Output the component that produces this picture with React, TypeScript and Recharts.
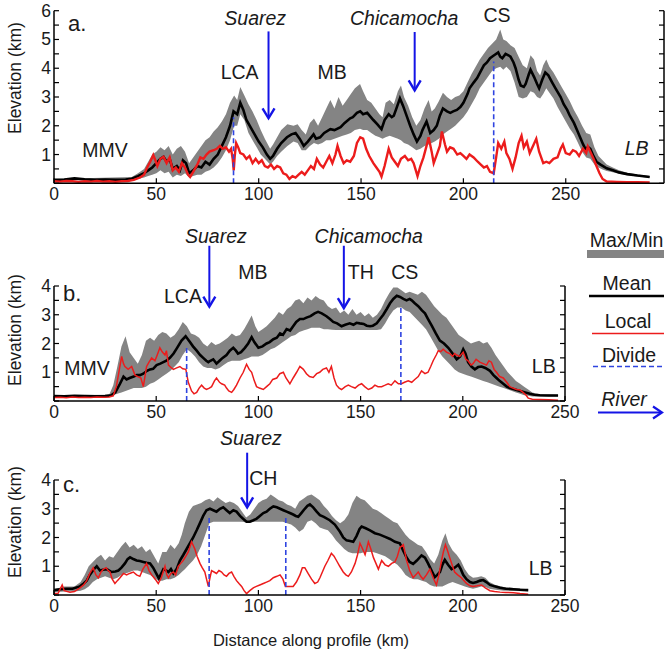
import React from 'react';
import { ComposedChart, Line, Area, XAxis, YAxis, ReferenceLine, ReferenceDot } from 'recharts';

const FONT = '"Liberation Sans", Arial, Helvetica, sans-serif';
const GRAY = '#848484';
const RED = '#ec1c1c';
const DIVIDE = '#2f44e0';
const RIVER = '#1414e6';
const TXT = '#1a1a1a';
const W = 668;

// ---------- Panel a ----------
const aMean: [number, number][] = [
  [0,0.12],[5,0.13],[10,0.17],[15,0.14],[20,0.12],[25,0.13],[30,0.12],[35,0.13],[38,0.16],[41,0.25],[44,0.35],[46,0.45],[48,0.55],[50,0.7],[52,0.85],[53.5,0.92],[55,0.75],[56.5,0.85],[58,0.5],[60,0.6],[61.5,0.45],[63,0.8],[64.5,0.7],[66,0.35],[68,0.45],[70,0.6],[72,0.55],[74,0.75],[76,0.65],[78,0.85],[80,1.0],[82,1.3],[84,1.6],[86,2.0],[87.7,2.5],[89.5,2.4],[91,2.8],[92.5,2.55],[94,2.2],[96,1.95],[98,1.7],[100,1.45],[102,1.25],[104,1.0],[105.6,0.85],[107,0.95],[109,1.2],[111,1.4],[113.8,1.6],[116,1.7],[118,1.75],[120,1.55],[122,1.3],[124,1.45],[126.8,1.7],[128,1.55],[130,1.6],[132,1.75],[135,1.88],[137,1.85],[140,1.95],[142,2.1],[144.7,2.26],[146,2.3],[148,2.45],[149.6,2.5],[151,2.4],[153,2.45],[156,2.2],[158,2.05],[160,1.88],[161.5,2.2],[163.5,2.4],[165,2.3],[166,2.35],[167.5,2.65],[169,2.95],[170.5,2.7],[172.5,2.3],[174,2.0],[175.7,1.7],[177.3,1.45],[179,1.65],[180,1.85],[182,2.15],[183.8,1.75],[185.5,1.85],[187,2.0],[188.5,2.35],[190,2.6],[192,2.5],[193.6,2.45],[195,2.5],[196.8,2.55],[198.5,2.65],[200,2.8],[202,3.1],[203,3.3],[205,3.5],[206.7,3.66],[208.5,3.9],[210,4.1],[211.5,4.2],[213,4.35],[215,4.45],[217,4.55],[218,4.4],[219,4.35],[220.6,4.5],[222,4.45],[223,4.4],[224.5,4.2],[225.5,4.0],[227,3.6],[228,3.4],[229.5,3.35],[230.4,3.45],[232,3.8],[232.8,3.95],[234.5,3.7],[236,3.45],[237,3.3],[238.5,3.6],[240,3.85],[241.5,3.75],[243.4,3.5],[245,3.3],[247.5,3.0],[249,2.75],[250.7,2.55],[252,2.35],[254,2.1],[255.5,1.85],[257,1.6],[258.5,1.35],[259.6,1.2],[261,1.25],[262,1.2],[263.5,0.95],[265,0.75],[267,0.65],[270,0.52],[273,0.45],[276,0.38],[280,0.32],[285,0.27],[291,0.22]
];
const aBand: [number, number, number][] = [
  [0,0.1,0.15],[38,0.12,0.22],[41,0.15,0.35],[44,0.2,0.5],[46,0.25,0.75],[48,0.3,1.0],[50,0.35,1.1],[52,0.45,1.25],[54,0.35,1.15],[56,0.4,1.3],[58,0.2,1.0],[60,0.3,1.2],[62,0.25,1.3],[64,0.35,1.1],[66,0.2,0.7],[68,0.25,0.9],[70,0.3,1.1],[72,0.3,1.3],[74,0.4,1.5],[76,0.45,1.6],[78,0.55,1.8],[80,0.7,1.95],[82,0.9,2.15],[84,1.15,2.4],[86,1.5,2.8],[88,2.0,3.05],[89.5,2.0,2.9],[91,2.4,3.35],[93,2.2,3.05],[95,1.75,2.75],[97,1.5,2.5],[99,1.25,2.2],[101,1.0,1.85],[103,0.85,1.55],[105.6,0.65,1.2],[107,0.75,1.35],[109,0.95,1.6],[111,1.1,1.85],[114,1.3,2.05],[117,1.45,2.0],[119,1.4,2.05],[121,1.15,1.85],[123,1.15,1.7],[125,1.3,2.1],[127,1.4,2.25],[129,1.35,2.0],[131,1.4,2.3],[133,1.5,2.6],[135,1.5,2.9],[137,1.55,2.6],[139,1.6,3.0],[141,1.65,2.7],[143,1.7,2.9],[145,1.75,3.1],[147,1.85,3.3],[149.5,1.9,3.45],[151,1.85,3.2],[153,1.85,2.9],[155,1.75,2.8],[157,1.65,2.6],[159,1.6,2.4],[160.5,1.55,2.3],[162,1.6,2.8],[164,1.65,2.9],[166,1.6,2.75],[168,1.55,3.2],[169.5,1.5,3.4],[171,1.4,3.0],[173,1.35,2.7],[175,1.25,2.3],[177,1.15,2.0],[179,1.2,2.2],[181,1.3,2.6],[183,1.35,2.9],[184.5,1.4,2.5],[186,1.45,2.6],[188,1.55,2.85],[190,1.7,3.15],[192,1.8,3.0],[194,1.9,2.9],[196,2.0,3.0],[198,2.15,3.05],[200,2.3,3.2],[202,2.5,3.5],[204,2.75,3.8],[206,3.0,4.05],[208,3.3,4.3],[210,3.5,4.5],[212,3.7,4.7],[214,3.9,4.85],[216,4.0,5.0],[218,4.05,5.35],[219.5,3.95,5.0],[221,4.05,4.95],[223,3.9,4.8],[225,3.5,4.7],[227,3.0,4.4],[229,2.95,4.1],[231,3.0,4.0],[232.8,3.2,4.45],[234.5,3.15,4.3],[236,3.0,3.9],[237.5,2.95,3.75],[239,3.1,4.1],[240.5,3.3,4.3],[242,3.15,4.05],[244,2.95,3.85],[246,2.65,3.6],[248,2.4,3.35],[250,2.15,3.1],[252,1.9,2.85],[254,1.7,2.55],[256,1.4,2.3],[258,1.1,2.0],[260,0.9,1.75],[262,0.85,1.7],[264,0.65,1.25],[266,0.55,0.95],[268,0.48,0.8],[270,0.43,0.65],[273,0.38,0.55],[276,0.33,0.45],[280,0.28,0.37],[285,0.24,0.31],[291,0.19,0.25]
];
const aLocal: [number, number][] = [
  [0,0.07],[3,0.06],[6,0.08],[9,0.07],[12,0.05],[15,0.07],[18,0.06],[21,0.08],[24,0.06],[27,0.07],[30,0.05],[33,0.07],[36,0.08],[39,0.12],[42,0.2],[44,0.3],[45.5,0.55],[47,0.75],[48.5,0.98],[49.5,0.8],[50.5,0.6],[52,0.85],[53.5,0.92],[55,0.7],[56.5,0.9],[58,0.45],[59.5,0.55],[61,0.4],[62.5,0.7],[64,0.55],[65.5,0.3],[66.5,0.22],[68,0.4],[70,0.65],[71.5,0.9],[73,0.85],[74.5,1.0],[76,1.1],[78,1.15],[79.5,1.2],[81,1.3],[82.5,1.2],[84,1.25],[85.5,1.1],[86.5,1.2],[87.3,0.85],[87.8,0.45],[88.3,0.95],[89,1.4],[90,1.25],[91,1.05],[92.5,1.0],[94,0.85],[95.5,0.95],[97,0.7],[98.5,0.85],[100,0.7],[101.5,0.8],[103,0.6],[104.5,0.55],[106,0.65],[107.5,0.5],[109,0.6],[110.5,0.55],[112,0.35],[113.5,0.3],[115,0.15],[116.5,0.25],[118,0.2],[119.5,0.3],[121,0.4],[122.5,0.3],[124,0.45],[125.5,0.6],[127,0.5],[128.4,0.85],[130,0.65],[131.5,0.55],[133,0.75],[134.5,0.95],[136,0.7],[137.5,1.0],[138.5,1.3],[140,0.95],[141.5,0.7],[143,0.8],[144.7,0.75],[146.5,0.95],[148,1.4],[149.6,1.6],[151,1.55],[152.5,1.2],[154,0.95],[156,0.7],[157.5,0.55],[159,0.4],[160,0.23],[161.5,0.6],[163.5,1.2],[165,0.9],[166.5,0.75],[168,0.6],[169.5,0.85],[171.4,0.95],[173,0.8],[174.5,0.85],[175.7,0.7],[177.6,0.25],[179,0.6],[180.5,0.9],[182,1.3],[183,1.6],[184.5,1.1],[185.5,0.7],[187,1.0],[188.5,1.3],[189.5,1.8],[191,1.35],[192,1.1],[193.5,1.25],[195.2,1.2],[197,1.0],[198.5,1.05],[200,0.95],[201.5,0.85],[203,1.0],[205,0.9],[207,0.75],[208.5,0.65],[210,0.55],[211.5,0.6],[213,0.4],[214.8,0.35],[216,0.9],[217,1.4],[218.5,1.2],[220,1.45],[221,1.05],[222.5,0.85],[224,0.5],[225.5,0.9],[227,1.4],[228.4,1.65],[229.5,1.25],[231,1.45],[232.4,1.05],[234,1.3],[235.6,1.55],[237,1.1],[239,0.7],[240.5,0.75],[242,0.7],[244,0.85],[246,0.9],[247.5,1.2],[248.6,1.35],[250,1.05],[251.9,1.0],[253.5,1.15],[255,1.1],[256.5,0.95],[258.4,1.2],[260,1.05],[260.8,1.28],[262,1.1],[263.3,0.9],[265,0.6],[266.5,0.35],[268,0.15],[270,0.06],[275,0.05],[280,0.04],[285,0.04],[291,0.03]
];
const aDivides: [number, number][] = [[87.7, 2.3], [214.8, 4.23]];
const aRivers: [number, number, number][] = [[104.8, 5.28, 2.26], [176.2, 5.26, 3.23]];
const aLabels: [string, number, number, string, boolean][] = [
  ['a.', 6.8, 5.31, 'start', false], ['Suarez', 98.3, 5.52, 'middle', true], ['LCA', 90.7, 3.63, 'middle', false],
  ['MB', 135.9, 3.63, 'middle', false], ['MMV', 24.9, 0.92, 'middle', false], ['Chicamocha', 171.1, 5.52, 'middle', true],
  ['CS', 216.4, 5.62, 'middle', false], ['LB', 284.6, 0.99, 'middle', true]
];

// ---------- Panel b ----------
const bMean: [number, number][] = [
  [0,0.17],[5,0.16],[10,0.18],[15,0.17],[20,0.16],[25,0.17],[28,0.2],[30,0.3],[32.3,0.6],[34,0.85],[35.5,0.75],[37,0.8],[39,0.85],[40.5,0.9],[42,0.9],[43.7,0.95],[45.5,1.05],[47,1.1],[48.5,1.12],[50.2,1.25],[52,1.3],[53.5,1.35],[55,1.4],[56.7,1.5],[58.5,1.65],[60,1.82],[62.4,2.1],[64.4,2.25],[65.5,2.15],[66.5,2.05],[68,1.9],[69.8,1.75],[71.5,1.6],[73,1.5],[74.5,1.4],[75.5,1.35],[76.5,1.4],[77.9,1.45],[79.5,1.3],[81,1.4],[82.5,1.5],[84.4,1.6],[86,1.75],[87.7,1.85],[89,1.75],[90,1.65],[91.5,1.7],[93.4,1.85],[95,2.0],[96.7,2.22],[98,2.05],[100,1.85],[102,1.9],[104,2.0],[105.5,2.05],[107.3,2.15],[109,2.2],[110.6,2.35],[112,2.3],[113.8,2.5],[115.5,2.45],[117,2.6],[118.5,2.75],[120.3,2.85],[122,2.85],[123.5,2.9],[125.5,2.95],[127.5,3.05],[129.2,3.1],[131,3.05],[133.3,2.95],[135,2.85],[136.6,2.75],[138.5,2.7],[140.7,2.6],[142.5,2.65],[144.7,2.7],[146.5,2.65],[148,2.72],[149.6,2.7],[151.5,2.68],[153,2.62],[154.6,2.6],[156,2.62],[157.9,2.7],[159.5,2.85],[161.1,3.0],[162.8,3.2],[164.4,3.4],[166,3.55],[167.7,3.66],[169.3,3.62],[170.9,3.55],[172.5,3.5],[174,3.55],[175,3.5],[176.5,3.4],[178.2,3.3],[180,3.15],[181.5,3.05],[183,2.85],[184.8,2.62],[186.8,2.35],[188.8,2.1],[190.8,2.0],[192.9,1.85],[195,1.65],[197,1.45],[198.7,1.55],[200.2,1.8],[201.3,1.65],[202.6,1.35],[204.2,1.2],[205.9,1.1],[207.5,1.18],[209.2,1.2],[211,1.15],[213.3,1.05],[215,0.9],[216.5,0.8],[218,0.7],[219.8,0.6],[221.5,0.5],[223,0.45],[225.5,0.4],[228,0.35],[230.5,0.3],[232.8,0.25],[235,0.22],[237.7,0.2],[242,0.19],[246.6,0.19]
];
const bBand: [number, number, number][] = [
  [0,0.12,0.2],[27,0.13,0.22],[29,0.2,0.55],[31,0.25,1.2],[33,0.3,1.9],[35,0.35,2.25],[37,0.4,1.7],[39,0.45,1.5],[41,0.45,1.3],[43,0.45,1.6],[45,0.5,2.1],[47,0.6,2.2],[49,0.65,2.1],[51,0.75,2.3],[53,0.85,2.4],[55,0.95,2.35],[57,1.05,2.2],[59,1.2,2.3],[61,1.35,2.5],[63,1.6,2.75],[65,1.8,2.6],[67,1.7,2.35],[69,1.55,2.3],[71,1.35,2.2],[73,1.2,2.0],[75,1.15,1.9],[77,1.15,2.05],[79,1.1,1.95],[81,1.15,2.0],[83,1.25,2.1],[85,1.35,2.2],[87,1.4,2.35],[89,1.4,2.25],[91,1.4,2.3],[93,1.45,2.5],[95,1.5,2.75],[96.7,1.55,2.97],[98.5,1.55,2.6],[100,1.55,2.4],[102,1.6,2.5],[104,1.7,2.6],[106,1.8,2.75],[108,1.85,2.9],[110,1.95,3.1],[112,2.05,3.0],[114,2.15,3.2],[116,2.25,3.3],[118,2.3,3.5],[120,2.4,3.55],[122,2.45,3.4],[124,2.5,3.6],[126,2.55,3.5],[128,2.55,3.65],[130,2.55,3.55],[132,2.5,3.5],[134,2.5,3.3],[136,2.48,3.2],[138,2.47,3.25],[140,2.47,3.05],[142,2.47,3.15],[144,2.47,3.0],[146,2.47,3.2],[148,2.47,3.0],[150,2.47,3.1],[152,2.47,2.95],[154,2.47,3.05],[156,2.47,2.9],[158,2.47,3.0],[160,2.5,3.2],[162,2.7,3.5],[164,2.95,3.75],[166,3.15,3.95],[168,3.25,3.95],[170,3.25,3.85],[172,3.15,3.75],[174,3.1,3.8],[176,2.95,3.75],[178,2.8,3.7],[180,2.65,3.8],[182,2.5,3.7],[184,2.25,3.5],[186,2.0,3.3],[188,1.75,3.15],[190,1.55,3.0],[192,1.4,2.9],[194,1.25,2.7],[196,1.1,2.5],[198,1.0,2.3],[200,0.95,2.2],[202,0.9,2.1],[204,0.85,2.0],[206,0.8,2.05],[208,0.75,2.1],[210,0.7,2.0],[212,0.65,2.05],[214,0.6,1.85],[216,0.55,1.6],[218,0.5,1.4],[220,0.45,1.2],[222,0.4,1.0],[224,0.35,0.85],[226,0.3,0.7],[228,0.25,0.6],[230,0.2,0.5],[232,0.18,0.4],[234,0.16,0.3],[237,0.16,0.24],[246.6,0.16,0.22]
];
const bLocal: [number, number][] = [
  [0,0.12],[3,0.13],[6,0.11],[9,0.14],[12,0.12],[15,0.13],[18,0.12],[21,0.14],[24,0.13],[27,0.14],[29,0.18],[30.5,0.5],[31.5,0.9],[33.1,1.55],[34,1.3],[34.7,1.2],[36.3,1.1],[38,1.2],[39.6,0.9],[41,0.85],[42.5,0.8],[43.7,0.5],[45.3,1.2],[46.5,1.35],[47.8,1.5],[49.4,1.4],[50.5,1.6],[51.8,1.85],[53,1.7],[54.3,1.6],[55,1.75],[56,1.25],[57.5,1.15],[58.4,1.1],[60,1.15],[61.6,1.2],[63,1.12],[64.5,1.1],[65.7,0.65],[67.3,0.35],[68.5,0.25],[69.8,0.3],[71,0.45],[72.2,0.55],[73.5,0.45],[74.6,0.4],[76,0.45],[77.1,0.5],[78.5,0.7],[79.5,0.8],[81,0.65],[82,0.6],[83.5,0.55],[84.4,0.45],[85.5,0.35],[86.9,0.3],[88,0.4],[89.3,0.55],[91,0.8],[92.6,1.0],[94.2,1.28],[95.5,1.1],[96.7,1.0],[98,0.7],[99.1,0.5],[100.5,0.45],[102.4,0.4],[104,0.5],[105.6,0.6],[107,0.75],[109,0.8],[110.5,0.95],[112.2,1.0],[113.5,0.8],[115.4,0.6],[117,0.8],[118.7,1.0],[120.3,1.2],[122,1.1],[123.5,0.95],[125,0.85],[126.8,0.82],[128.5,0.95],[130,1.0],[131.5,1.1],[133.3,1.15],[134.5,1.0],[135.7,1.2],[137,0.8],[138.2,0.55],[139.5,0.45],[140.7,0.4],[142.5,0.5],[144,0.55],[145.5,0.5],[147.3,0.45],[149,0.55],[150.5,0.6],[152,0.5],[153.8,0.4],[155.5,0.45],[157,0.55],[158.5,0.5],[160.3,0.5],[162,0.55],[163.5,0.6],[165,0.55],[166.8,0.7],[168.5,0.6],[170,0.6],[171.5,0.65],[173.3,0.7],[175,0.65],[176.5,0.75],[178.2,0.85],[179.8,1.05],[181.5,0.95],[183,1.0],[184.3,1.2],[185.5,1.4],[187,1.6],[188,1.75],[189.2,1.72],[190.4,1.8],[192,1.7],[193.6,1.65],[195,1.55],[196,1.65],[197,1.6],[198.5,1.55],[200.2,1.7],[201.5,1.45],[202.6,1.4],[204,1.25],[205,1.3],[206.5,1.45],[208.3,1.35],[210,1.3],[211.6,1.25],[212.8,1.4],[214,1.35],[215.3,1.1],[216.5,1.0],[218,0.85],[219.8,0.8],[221.5,0.65],[223,0.5],[224.5,0.45],[226.3,0.4],[228,0.38],[229.5,0.3],[231,0.2],[232,0.1],[234,0.06],[237.7,0.05],[242,0.04],[246.6,0.03]
];
const bDivides: [number, number][] = [[64.9, 1.93], [169.7, 3.31]];
const bRivers: [number, number, number][] = [[76, 5.4, 3.28], [141.8, 5.4, 3.23]];
const bLabels: [string, number, number, string, boolean][] = [
  ['b.', 4.4, 3.48, 'start', false], ['Suarez', 79.2, 5.49, 'middle', true], ['MB', 97.3, 4.24, 'middle', false],
  ['LCA', 63.1, 3.42, 'middle', false], ['MMV', 16.1, 0.9, 'middle', false], ['Chicamocha', 154, 5.49, 'middle', true],
  ['TH', 150.1, 4.24, 'middle', false], ['CS', 171.6, 4.24, 'middle', false], ['LB', 239.6, 0.97, 'middle', false]
];

// ---------- Panel c ----------
const cMean: [number, number][] = [
  [0,0.17],[3,0.2],[6,0.22],[9,0.22],[12.7,0.3],[14.5,0.4],[16,0.5],[17.5,0.7],[19.2,0.87],[20.9,1.0],[22.5,0.85],[24,0.88],[25.8,0.9],[27,0.85],[28.2,0.8],[30,0.82],[31.5,0.85],[33,0.95],[34.7,1.1],[36,1.25],[37.2,1.31],[38.8,1.25],[40.4,1.2],[42,1.18],[43.7,1.15],[45.3,1.12],[47,1.1],[48.5,0.95],[50,0.75],[51.3,0.58],[52.5,0.75],[53.5,0.9],[55,0.85],[56,0.8],[57.2,0.9],[58.4,0.75],[60,0.9],[61.6,1.2],[63.3,1.4],[64.9,1.6],[66.5,1.8],[68.1,2.0],[69.8,2.25],[71.4,2.5],[73,2.75],[74.6,2.95],[76.3,3.0],[77.9,2.95],[79.5,2.9],[81.2,3.0],[82.8,3.05],[84.4,2.95],[86,2.85],[87.7,2.95],[89.3,2.9],[91,2.75],[92.5,2.65],[94.2,2.55],[95.8,2.55],[97.5,2.6],[99,2.65],[100.7,2.75],[102.4,2.85],[104,2.9],[105.6,3.0],[107.3,3.08],[109,3.05],[110.6,3.0],[112.2,2.95],[113.8,2.9],[115.4,2.85],[117,2.8],[118.3,2.75],[119.5,2.72],[121,2.85],[122.7,3.0],[124,3.1],[125.2,3.15],[126.8,3.05],[128.5,2.9],[130.1,2.78],[132,2.72],[134.9,2.6],[137.4,2.45],[139.9,2.2],[141.5,2.0],[143.1,1.9],[144.8,1.88],[146.4,1.85],[148,2.05],[149.5,2.3],[150.5,2.38],[152.5,2.32],[154.6,2.25],[157,2.15],[159.4,2.1],[162,2.02],[164.4,1.95],[166.8,1.85],[169.2,1.8],[170.8,1.55],[172.5,1.3],[174,1.15],[175.7,1.08],[177.5,1.2],[179.8,1.38],[181.5,1.3],[183,1.1],[184.7,0.85],[186.3,0.62],[187.5,0.7],[188.8,0.8],[190,1.05],[191.2,1.22],[192.8,1.05],[194.5,0.9],[196,0.95],[197.8,1.05],[199,0.9],[200.2,0.7],[201.8,0.55],[203.5,0.45],[205,0.42],[206.8,0.45],[208.5,0.5],[210,0.52],[211.5,0.45],[213.3,0.35],[215.5,0.3],[218.2,0.25],[221,0.22],[224.8,0.2],[228,0.18],[232,0.17]
];
const cBand: [number, number, number][] = [
  [0,0.1,0.2],[5,0.12,0.3],[10,0.12,0.3],[13,0.15,0.45],[15,0.2,0.7],[17,0.3,1.0],[19,0.45,1.15],[21,0.55,1.3],[23,0.6,1.4],[25,0.65,1.2],[27,0.6,1.35],[29,0.55,1.3],[31,0.6,1.5],[33,0.7,1.7],[35,0.75,1.85],[37,0.8,1.65],[39,0.85,1.75],[41,0.85,1.6],[43,0.8,1.7],[45,0.75,1.5],[47,0.7,1.6],[49,0.6,1.35],[51,0.5,1.1],[53,0.5,1.5],[55,0.55,1.5],[57,0.55,1.75],[59,0.6,1.6],[61,0.7,1.8],[62.5,0.8,2.1],[64,0.9,2.5],[66,1.05,2.9],[68,1.2,3.1],[70,1.4,3.15],[72,1.7,3.2],[74,2.1,3.3],[76,2.5,3.35],[78,2.55,3.25],[80,2.55,3.4],[82,2.55,3.3],[84,2.55,3.2],[86,2.55,3.25],[88,2.55,3.2],[90,2.55,3.1],[92,2.55,2.9],[94,2.52,2.7],[96,2.52,2.8],[98,2.55,3.0],[100,2.55,3.2],[102,2.55,3.3],[104,2.55,3.35],[106,2.55,3.5],[108,2.55,3.4],[110,2.55,3.3],[112,2.55,3.25],[114,2.5,3.15],[116,2.45,3.1],[118,2.35,3.0],[120,2.2,3.25],[122,2.3,3.35],[124,2.55,3.45],[126,2.6,3.5],[128,2.5,3.4],[130,2.35,3.3],[132,2.3,3.1],[134,2.25,2.95],[136,2.1,2.75],[138,1.9,2.6],[140,1.75,2.5],[142,1.6,2.6],[144,1.5,2.8],[146,1.45,3.2],[148,1.45,3.45],[150,1.45,3.35],[152,1.5,3.3],[154,1.5,3.15],[156,1.5,3.0],[158,1.45,2.95],[160,1.4,2.85],[162,1.35,2.75],[164,1.25,2.65],[166,1.15,2.55],[168,1.05,2.5],[170,0.9,2.3],[172,0.7,2.1],[174,0.6,1.95],[176,0.55,1.85],[178,0.55,1.75],[180,0.5,1.7],[182,0.45,1.5],[184,0.35,1.25],[186,0.3,1.1],[188,0.3,1.4],[190,0.3,1.9],[191.5,0.35,2.15],[193,0.4,1.8],[195,0.45,1.55],[197,0.4,1.4],[199,0.35,1.2],[201,0.3,0.9],[203,0.25,0.7],[205,0.22,0.6],[207,0.25,0.62],[209,0.3,0.65],[211,0.28,0.6],[213,0.22,0.45],[216,0.18,0.35],[220,0.15,0.28],[225,0.14,0.24],[232,0.13,0.2]
];
const cLocal: [number, number][] = [
  [0,0.05],[2,0.06],[4,0.35],[5,0.15],[7.8,0.1],[10,0.12],[12.7,0.25],[14.5,0.35],[16,0.5],[17.5,0.75],[19.2,0.95],[20.5,0.7],[21.7,0.6],[23,0.8],[24.2,0.9],[25.5,0.95],[26.5,0.85],[27.4,0.8],[28.5,0.55],[29.8,0.4],[31,0.5],[32.3,0.6],[34,0.75],[35.5,0.7],[37,0.75],[38.8,0.8],[40.4,0.7],[42,0.65],[43.5,0.9],[45.3,1.1],[46.5,0.85],[47.8,0.7],[49.5,0.55],[51,0.4],[52.5,0.6],[54.3,1.0],[55.2,0.7],[56,0.6],[57.2,0.75],[58.4,0.8],[59.5,0.7],[60.8,1.0],[62,1.1],[63.2,1.2],[64.5,1.35],[65.7,1.5],[67.3,1.85],[68.9,1.6],[70,1.35],[71.4,1.1],[72.5,0.95],[73.8,0.8],[74.8,0.5],[75.5,0.3],[76.3,0.6],[77.1,0.85],[78.3,0.8],[79.5,0.75],[80.7,0.85],[82,0.8],[83.2,0.7],[84.4,0.65],[85.6,0.75],[86.9,0.8],[88,0.65],[89.3,0.5],[90.5,0.4],[91.8,0.3],[93,0.15],[94.2,0.05],[95.8,0.15],[97.5,0.25],[99,0.3],[100.7,0.35],[102.4,0.4],[104,0.45],[105.6,0.5],[107.3,0.6],[109,0.65],[110.6,0.7],[112,0.55],[113.2,0.3],[115,0.3],[117,0.3],[118.6,0.45],[120.3,0.7],[121.5,0.95],[122.7,0.95],[124.3,0.75],[126,0.55],[127.6,0.4],[129,0.45],[130.1,0.6],[131.3,0.8],[132.5,1.0],[134,1.2],[135.7,1.45],[137,1.35],[138.2,1.2],[139.8,1.0],[141.5,0.8],[142.8,0.7],[144,0.65],[145.5,0.8],[147.3,1.1],[148.5,1.4],[149.7,1.8],[151,1.6],[152.2,1.4],[153.8,1.85],[155,1.6],[156.3,1.3],[157.5,1.1],[158.7,0.9],[160.3,1.2],[162,1.05],[163.6,1.0],[165.2,1.1],[166.8,1.15],[168,1.35],[169.2,1.65],[170.9,1.75],[172.5,1.2],[174,0.85],[175.7,0.6],[177,0.7],[178.2,0.8],[179.4,0.65],[180.6,0.55],[182.2,0.7],[183.9,0.9],[185.5,0.6],[187.1,0.35],[188.3,0.7],[189.6,1.2],[190.5,1.5],[191.5,1.75],[192.5,1.55],[193.6,1.3],[195,1.0],[196,0.8],[197.5,0.7],[199.3,0.6],[200.5,0.5],[201.8,0.4],[203.5,0.32],[205,0.3],[207,0.32],[209.2,0.35],[211,0.25],[213.3,0.15],[215.5,0.12],[218.2,0.1],[221,0.09],[224.8,0.08],[228,0.05],[232,0.03]
];
const cDivides: [number, number][] = [[75.9, 2.72], [113.4, 2.72]];
const cRivers: [number, number, number][] = [[94.5, 4.95, 3.05]];
const cLabels: [string, number, number, string, boolean][] = [
  ['c.', 4.4, 3.6, 'start', false], ['Suarez', 96.3, 5.22, 'middle', true], ['CH', 102.4, 3.83, 'middle', false],
  ['LB', 238.1, 0.7, 'middle', false]
];

const xLabels = [0, 50, 100, 150, 200, 250];

// panel layouts (page pixels)
const LAYOUT = {
  a: { top: 0, height: 205, margin: { top: 10.7, right: 4, bottom: 21.7, left: 54 }, xMax: 298, yMax: 6 },
  b: { top: 218, height: 205, margin: { top: 68, right: 103, bottom: 22, left: 54 }, xMax: 250, yMax: 4 },
  c: { top: 425, height: 192, margin: { top: 55, right: 103, bottom: 22, left: 54 }, xMax: 250, yMax: 4 },
};

const pts = (arr: [number, number][]) => arr.map(([km, v]) => ({ km, v }));
const band = (arr: [number, number, number][]) => arr.map(([km, lo, hi]) => ({ km, r: [lo, hi] }));

const XTick = (p: any) => {
  const { x, y, payload } = p;
  return (
    <g>
      <line x1={x} y1={y} x2={x} y2={y - 5} stroke="#000" strokeWidth={1.2} />
      <text x={x} y={y + 17} textAnchor="middle" fontSize={17.5} fontFamily={FONT} fill={TXT}>{payload.value}</text>
    </g>
  );
};
// left tick + mirrored inward tick on the right side of the box
const makeYTick = (plotW: number) => (p: any) => {
  const { x, y, payload } = p;
  const v = payload.value;
  const show = Math.abs(v - Math.round(v)) < 1e-6 && v > 0;
  const xr = x + plotW;
  return (
    <g>
      <line x1={x} y1={y} x2={x + 5} y2={y} stroke="#000" strokeWidth={1.2} />
      <line x1={xr} y1={y} x2={xr - 5} y2={y} stroke="#000" strokeWidth={1.2} />
      {show && <text x={x - 3} y={y + 6} textAnchor="end" fontSize={17.5} fontFamily={FONT} fill={TXT}>{v}</text>}
    </g>
  );
};

const ArrowShape = (p: any) => {
  const { x1, y1, y2 } = p;
  const top = Math.min(y1, y2), tip = Math.max(y1, y2);
  const x = x1;
  return (
    <g>
      <line x1={x} y1={top} x2={x} y2={tip - 1} stroke={RIVER} strokeWidth={2} />
      <polyline points={`${x - 6},${tip - 10} ${x},${tip} ${x + 6},${tip - 10}`} fill="none" stroke={RIVER} strokeWidth={2.4} />
    </g>
  );
};

type PanelProps = {
  layout: any; bandData: [number, number, number][]; mean: [number, number][]; local: [number, number][];
  localWidth: number; divides: [number, number][]; rivers: [number, number, number][];
  labels: [string, number, number, string, boolean][];
};

function Panel(props: PanelProps) {
  const { layout, bandData, mean, local, localWidth, divides, rivers, labels } = props;
  const { top, height, margin, xMax, yMax } = layout;
  const yTicks: number[] = [];
  for (let v = 0; v <= yMax + 1e-9; v += 0.5) yTicks.push(v);
  const m = { top: margin.top, right: margin.right, bottom: margin.bottom - 1, left: margin.left - 1 };
  const plotW = W - margin.left - margin.right;
  const YTick = makeYTick(plotW);
  return (
    <div style={{ position: 'absolute', left: 0, top }}>
      <ComposedChart width={W} height={height} margin={m}>
        <XAxis type="number" dataKey="km" domain={[0, xMax]} ticks={xLabels} interval={0} height={1}
          tickSize={0} tickMargin={0} tick={(p: any) => <XTick {...p} />} tickLine={false}
          axisLine={{ stroke: '#000', strokeWidth: 1.5 }} allowDataOverflow />
        <YAxis yAxisId="l" type="number" domain={[0, yMax]} ticks={yTicks} interval={0} width={1}
          tickSize={0} tickMargin={0} tick={(p: any) => <YTick {...p} />} tickLine={false}
          axisLine={{ stroke: '#000', strokeWidth: 1.5 }} allowDataOverflow />
        <Area yAxisId="l" data={band(bandData)} dataKey="r" type="linear" stroke="none" fill={GRAY} fillOpacity={1}
          isAnimationActive={false} activeDot={false} />
        <Line yAxisId="l" data={pts(mean)} dataKey="v" type="linear" stroke="#000" strokeWidth={2.6} dot={false}
          activeDot={false} isAnimationActive={false} />
        <Line yAxisId="l" data={pts(local)} dataKey="v" type="linear" stroke={RED} strokeWidth={localWidth} dot={false}
          activeDot={false} isAnimationActive={false} />
        {divides.map(([km, h], i) => (
          <ReferenceLine key={'d' + i} yAxisId="l" segment={[{ x: km, y: 0 }, { x: km, y: h }]} stroke={DIVIDE}
            strokeWidth={1.6} strokeDasharray="5 3" ifOverflow="visible" />
        ))}
        {rivers.map(([km, y0, y1], i) => (
          <ReferenceLine key={'r' + i} yAxisId="l" segment={[{ x: km, y: y0 }, { x: km, y: y1 }]} ifOverflow="visible"
            shape={(p: any) => <ArrowShape {...p} />} />
        ))}
        {labels.map(([t, km, y, anchor, italic], i) => (
          <ReferenceDot key={'t' + i} yAxisId="l" x={km} y={y} r={0} ifOverflow="visible"
            shape={(p: any) => (
              <text x={p.cx} y={p.cy} textAnchor={anchor as any} fontSize={t.length === 2 && t.endsWith('.') ? 22 : 19.5}
                fontStyle={italic ? 'italic' : 'normal'} fontFamily={FONT} fill={TXT}>{t}</text>
            )} />
        ))}
      </ComposedChart>
    </div>
  );
}

// right-hand side of each box, derived from the panel layout
function RightFrame({ layout }: { layout: any }) {
  const { top, height, margin } = layout;
  const x = W - margin.right;
  const y0 = top + margin.top;
  const y1 = top + height - margin.bottom;
  return <line x1={x} y1={y0} x2={x} y2={y1} stroke="#000" strokeWidth={1.5} />;
}

export default function App() {
  return (
    <div style={{ position: 'absolute', left: 0, top: 0, width: W, height: 656, background: '#fff', overflow: 'hidden' }}>
      <Panel layout={LAYOUT.a} bandData={aBand} mean={aMean} local={aLocal} localWidth={2.4}
        divides={aDivides} rivers={aRivers} labels={aLabels} />
      <Panel layout={LAYOUT.b} bandData={bBand} mean={bMean} local={bLocal} localWidth={1.5}
        divides={bDivides} rivers={bRivers} labels={bLabels} />
      <Panel layout={LAYOUT.c} bandData={cBand} mean={cMean} local={cLocal} localWidth={1.5}
        divides={cDivides} rivers={cRivers} labels={cLabels} />
      <svg width={W} height={656} style={{ position: 'absolute', left: 0, top: 0, pointerEvents: 'none' }}>
        <RightFrame layout={LAYOUT.a} />
        <RightFrame layout={LAYOUT.b} />
        <RightFrame layout={LAYOUT.c} />
        <g fontFamily={FONT} fill={TXT}>
          <text transform="translate(21,78) rotate(-90)" textAnchor="middle" fontSize={17.5}>Elevation (km)</text>
          <text transform="translate(21,330) rotate(-90)" textAnchor="middle" fontSize={17.5}>Elevation (km)</text>
          <text transform="translate(21,522) rotate(-90)" textAnchor="middle" fontSize={17.5}>Elevation (km)</text>
          <text x={311} y={646} textAnchor="middle" fontSize={16.5}>Distance along profile (km)</text>
          <text x={626.5} y={246.7} textAnchor="middle" fontSize={19.5}>Max/Min</text>
          <text x={627} y={290} textAnchor="middle" fontSize={19.5}>Mean</text>
          <text x={628} y={328} textAnchor="middle" fontSize={19.5}>Local</text>
          <text x={629} y={362} textAnchor="middle" fontSize={19.5}>Divide</text>
          <text x={624} y={406} textAnchor="middle" fontSize={19.5} fontStyle="italic">River</text>
        </g>
        <rect x={587} y={250} width={77} height={8} fill={GRAY} />
        <line x1={589} x2={664} y1={296} y2={296} stroke="#000" strokeWidth={2.6} />
        <line x1={592} x2={664} y1={333.5} y2={333.5} stroke={RED} strokeWidth={1.5} />
        <line x1={593} x2={664} y1={366.5} y2={366.5} stroke={DIVIDE} strokeWidth={1.6} strokeDasharray="5 3" />
        <line x1={598} x2={661} y1={412.5} y2={412.5} stroke={RIVER} strokeWidth={2} />
        <polyline points="653,406.5 662,412.5 653,418.5" fill="none" stroke={RIVER} strokeWidth={2.2} />
      </svg>
    </div>
  );
}
